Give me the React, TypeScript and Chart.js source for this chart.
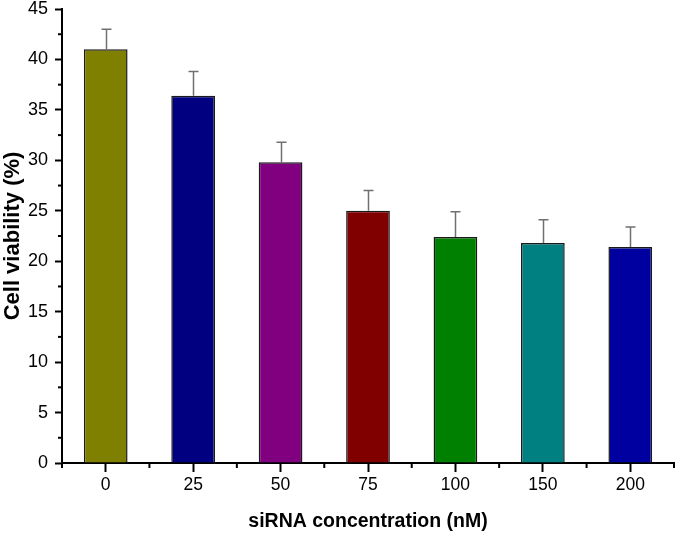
import React, { useEffect, useRef } from "react";
import { Chart, registerables } from "chart.js";

Chart.register(...registerables);

const categories = ["0", "25", "50", "75", "100", "150", "200"];
const viability = [41.0, 36.4, 29.8, 25.0, 22.4, 21.8, 21.4];
const errorUp = [2.0, 2.4, 2.0, 2.0, 2.5, 2.3, 2.0];
const barColors = ["#808000", "#000080", "#800080", "#800000", "#008000", "#008080", "#0000A0"];
const yMin = 0;
const yMax = 45;
const yMajorStep = 5;
const yMinorStep = 2.5;

const FONT = "'Liberation Sans', Arial, Helvetica, sans-serif";

const extrasPlugin = {
  id: "extras",
  afterDatasetsDraw(chart: any) {
    const ctx = chart.ctx;
    const ys = chart.scales.y;
    const meta = chart.getDatasetMeta(0);
    ctx.save();
    ctx.strokeStyle = "#707070";
    ctx.lineWidth = 1.5;
    meta.data.forEach((bar: any, i: number) => {
      const px = Math.round(bar.x) + 0.5;
      const top = ys.getPixelForValue(viability[i]);
      const end = ys.getPixelForValue(viability[i] + errorUp[i]);
      ctx.beginPath();
      ctx.moveTo(px, top);
      ctx.lineTo(px, end);
      ctx.moveTo(px - 5, end);
      ctx.lineTo(px + 5, end);
      ctx.stroke();
    });
    ctx.restore();
  },
  afterDraw(chart: any) {
    const ctx = chart.ctx;
    const xs = chart.scales.x;
    const ys = chart.scales.y;
    ctx.save();
    ctx.strokeStyle = "#000";
    ctx.lineWidth = 2;
    for (let v = yMin + yMinorStep; v < yMax; v += yMajorStep) {
      const py = ys.getPixelForValue(v);
      ctx.beginPath();
      ctx.moveTo(ys.right - 4, py);
      ctx.lineTo(ys.right, py);
      ctx.stroke();
    }
    const n = categories.length;
    const w = (xs.right - xs.left) / n;
    for (let i = 0; i <= n; i++) {
      const px = xs.left + i * w;
      ctx.beginPath();
      ctx.moveTo(px, xs.top);
      ctx.lineTo(px, xs.top + 5);
      ctx.stroke();
    }
    ctx.restore();
  },
};

export default function App() {
  const ref = useRef<HTMLCanvasElement>(null);
  useEffect(() => {
    if (!ref.current) return;
    const chart = new Chart(ref.current, {
      type: "bar",
      data: {
        labels: categories,
        datasets: [
          {
            data: viability,
            backgroundColor: barColors,
            borderColor: "#1a1a1a",
            borderWidth: 1.5,
            barPercentage: 0.5,
            categoryPercentage: 1.0,
          },
        ],
      },
      options: {
        responsive: false,
        animation: false,
        layout: { padding: { top: 9, right: 1, left: 0, bottom: 0 } },
        plugins: { legend: { display: false }, tooltip: { enabled: false } },
        scales: {
          x: {
            offset: true,
            grid: { offset: false, drawOnChartArea: false, tickLength: 9, tickColor: "#000", tickWidth: 2 },
            border: { display: true, color: "#000", width: 2 },
            ticks: { color: "#000", font: { family: FONT, size: 17.5 }, padding: 3 },
            title: {
              display: true,
              text: "siRNA concentration (nM)",
              color: "#000",
              font: { family: FONT, size: 19.5, weight: "bold" },
              padding: { top: 0, bottom: 0 },
            },
            afterFit: (s: any) => {
              s.height = 70;
              s.paddingLeft = 0;
              s.paddingRight = 0;
            },
          },
          y: {
            min: yMin,
            max: yMax,
            ticks: { stepSize: yMajorStep, color: "#000", font: { family: FONT, size: 18 }, padding: 7 },
            grid: { drawOnChartArea: false, tickLength: 7, tickColor: "#000", tickWidth: 2 },
            border: { display: true, color: "#000", width: 2 },
            title: {
              display: true,
              text: "Cell viability (%)",
              color: "#000",
              font: { family: FONT, size: 22, weight: "bold" },
              padding: { top: 0, bottom: 0 },
            },
            afterFit: (s: any) => {
              s.width = 62;
              s.paddingTop = 0;
              s.paddingBottom = 0;
            },
          },
        },
      },
      plugins: [extrasPlugin],
    });
    return () => chart.destroy();
  }, []);
  return (
    <div style={{ position: "absolute", left: 0, top: 0, width: 675, height: 533, background: "#fff" }}>
      <canvas ref={ref} width={675} height={533} style={{ display: "block" }} />
    </div>
  );
}
